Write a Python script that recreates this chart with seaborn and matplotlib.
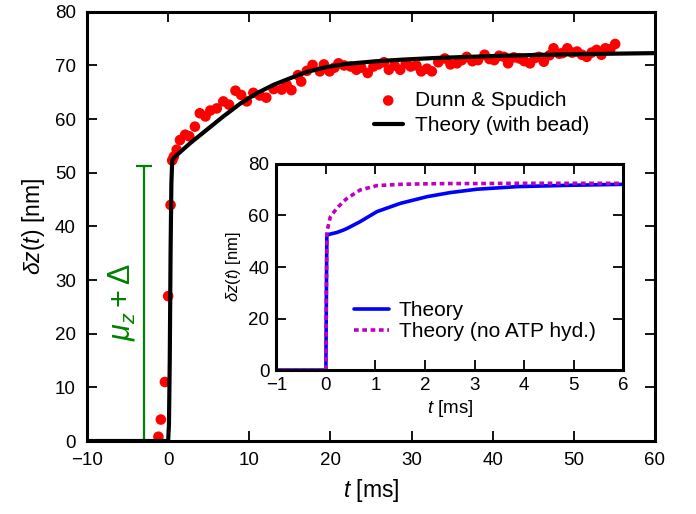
import numpy as np
import pandas as pd
import matplotlib
matplotlib.use('Agg')
import matplotlib.pyplot as plt
import seaborn as sns

t_data = [-1.2, -0.9, -0.4, 0.0, 0.3, 0.5, 0.7, 1.05, 1.46, 2.1, 2.6, 3.3, 3.9, 4.6, 5.2,
          6.0, 6.8, 7.5, 8.3, 9.0, 9.7, 10.5, 11.3, 12.1, 13.0, 14.0, 14.6, 15.2, 16.0,
          16.4, 17.1, 17.8, 18.7, 19.2, 19.9, 20.5, 21.0, 21.7, 22.5, 23.2, 23.8, 24.6,
          25.3, 25.9, 26.6, 27.2, 27.9, 28.6, 29.3, 29.9, 30.6, 31.2, 31.9, 32.5, 33.3,
          34.1, 34.8, 35.6, 36.2, 36.8, 37.5, 38.2, 39.0, 39.6, 40.2, 40.8, 41.4, 41.9,
          42.6, 43.3, 43.9, 44.6, 45.2, 45.7, 46.3, 47.0, 47.5, 48.2, 48.6, 49.2, 49.8,
          50.4, 51.0, 51.6, 52.2, 52.8, 53.4, 53.9, 54.5, 55.1]
z_data = [0.8, 4.0, 11.0, 27.0, 44.0, 52.3, 53.0, 54.3, 56.1, 57.1, 56.8, 58.6, 61.1, 60.5, 61.6,
          62.0, 63.3, 62.7, 65.3, 64.5, 63.3, 64.9, 64.4, 64.0, 65.6, 65.5, 66.4, 65.4, 68.2,
          67.0, 69.0, 70.1, 68.9, 70.2, 68.9, 69.6, 70.4, 70.0, 69.8, 69.2, 69.6, 68.6,
          69.8, 70.2, 70.6, 69.2, 70.0, 69.2, 70.4, 69.8, 70.0, 68.9, 69.4, 68.9, 70.6,
          71.3, 70.2, 70.4, 71.0, 71.6, 70.8, 71.0, 72.0, 71.2, 71.0, 71.8, 71.6, 70.4,
          71.5, 71.3, 70.8, 70.4, 71.4, 71.6, 70.7, 71.9, 73.2, 72.2, 72.3, 73.2, 72.4,
          72.6, 72.0, 71.6, 72.4, 72.9, 72.0, 73.2, 73.0, 74.0]

# theory curve with bead
t_bead = [-10, -5, 0.0, 0.1, 0.2, 0.3, 0.4, 0.5, 0.85, 2.7, 4.75, 6.8, 8.9, 10.9, 13.0,
          15.0, 17.1, 19.5, 22.0, 25.7, 29.0, 33.0, 37.0, 41.0, 45.0, 50.0, 55.0, 60.0]
z_bead = [0, 0, 0, 3, 15, 35, 48, 52.3, 53.0, 55.5, 58.0, 60.5, 62.9, 64.8, 66.4,
          67.6, 68.8, 69.7, 70.3, 70.8, 71.1, 71.4, 71.6, 71.8, 71.95, 72.1, 72.2, 72.3]

# inset theory curves
t_ins = [-1.0, -0.5, 0.0, 0.01, 0.02, 0.09, 0.22, 0.36, 0.43, 0.69, 1.03, 1.5, 2.04,
         2.51, 3.05, 3.86, 4.86, 6.0]
z_theory = [0, 0, 0, 30, 52.4, 52.8, 53.4, 54.4, 55.0, 57.6, 61.5, 64.7, 67.3,
            68.9, 70.2, 71.2, 71.7, 72.1]
z_no_atp = [0, 0, 0, 30, 53.7, 59.5, 62.8, 65.5, 66.7, 69.9, 71.6, 72.1, 72.3,
            72.4, 72.4, 72.5, 72.5, 72.5]

# error bar marking the jump
bar_t = -3.0
bar_lo, bar_hi = 0.0, 51.2

sns.set_style('ticks')
plt.rcParams['font.family'] = ['Liberation Sans', 'DejaVu Sans']
plt.rcParams['mathtext.fontset'] = 'custom'
plt.rcParams['mathtext.it'] = 'Liberation Sans:italic'
plt.rcParams['mathtext.rm'] = 'Liberation Sans'
plt.rcParams['mathtext.cal'] = 'Liberation Sans'
plt.rcParams['text.color'] = 'black'
plt.rcParams['axes.labelcolor'] = 'black'
plt.rcParams['axes.edgecolor'] = 'black'
plt.rcParams['xtick.color'] = 'black'
plt.rcParams['ytick.color'] = 'black'

fig = plt.figure(figsize=(6.96, 5.14), dpi=100)
ax = fig.add_axes([0.125, 0.142, 0.816, 0.835])

df_data = pd.DataFrame({'t': t_data, 'z': z_data})
df_bead = pd.DataFrame({'t': t_bead, 'z': z_bead})

sns.scatterplot(data=df_data, x='t', y='z', ax=ax, color='#ff0000', s=58,
                edgecolor='none', label='Dunn & Spudich', zorder=2)
sns.lineplot(data=df_bead, x='t', y='z', ax=ax, color='black', lw=3,
             label='Theory (with bead)', zorder=3, sort=False)

ax.errorbar([bar_t], [(bar_lo + bar_hi) / 2], yerr=[(bar_hi - bar_lo) / 2],
            color='green', capsize=5.5, lw=1.6, capthick=1.6, fmt='none')
ax.text(-5.7, 26, r'$\mu_z + \Delta$', color='green', fontsize=22,
        rotation=90, ha='center', va='center')

ax.set_xlim(-10, 60)
ax.set_ylim(0, 80)
ax.set_xticks(np.arange(-10, 61, 10))
ax.set_yticks(np.arange(0, 81, 10))
ax.set_xticklabels(['\u221210', '0', '10', '20', '30', '40', '50', '60'])
ax.tick_params(direction='in', length=7, width=1.3, top=True, right=True,
               labelsize=13.5, pad=8)
for sp in ax.spines.values():
    sp.set_linewidth(2.2)
    sp.set_visible(True)
ax.set_xlabel(r'$t$ [ms]', fontsize=16.5, labelpad=6)
ax.set_ylabel(r'$\delta z(t)$ [nm]', fontsize=16.5, labelpad=6)

leg = ax.legend(loc='upper left', bbox_to_anchor=(0.49, 0.835), frameon=False,
                fontsize=15, handlelength=1.4, handletextpad=0.6, labelspacing=0.3,
                borderaxespad=0)

# inset
axi = fig.add_axes([0.397, 0.280, 0.4986, 0.401])
df_ins = pd.DataFrame({'t': t_ins, 'theory': z_theory, 'noatp': z_no_atp})
sns.lineplot(data=df_ins, x='t', y='theory', ax=axi, color='#0000ff', lw=2.6,
             label='Theory', sort=False)
sns.lineplot(data=df_ins, x='t', y='noatp', ax=axi, color='#c000c0', lw=2.6,
             label='Theory (no ATP hyd.)', sort=False)
axi.lines[1].set_dashes((1.3, 1.0))
axi.set_xlim(-1, 6)
axi.set_ylim(0, 80)
axi.set_xticks(np.arange(-1, 7, 1))
axi.set_yticks(np.arange(0, 81, 20))
axi.set_xticklabels(['\u22121', '0', '1', '2', '3', '4', '5', '6'])
axi.tick_params(direction='in', length=7, width=1.3, top=True, right=True,
                labelsize=13.5, pad=5)
for sp in axi.spines.values():
    sp.set_linewidth(2.2)
    sp.set_visible(True)
axi.set_xlabel(r'$t$ [ms]', fontsize=13.5, labelpad=3)
axi.set_ylabel(r'$\delta z(t)$ [nm]', fontsize=12, labelpad=4)
lg2 = axi.legend(loc='lower left', bbox_to_anchor=(0.2, 0.1), frameon=False,
                 fontsize=15, handlelength=1.7, handletextpad=0.45, labelspacing=0.1,
                 borderaxespad=0)
lg2.get_lines()[1].set_dashes((1.3, 1.0))

fig.savefig('out.png', dpi=100)
